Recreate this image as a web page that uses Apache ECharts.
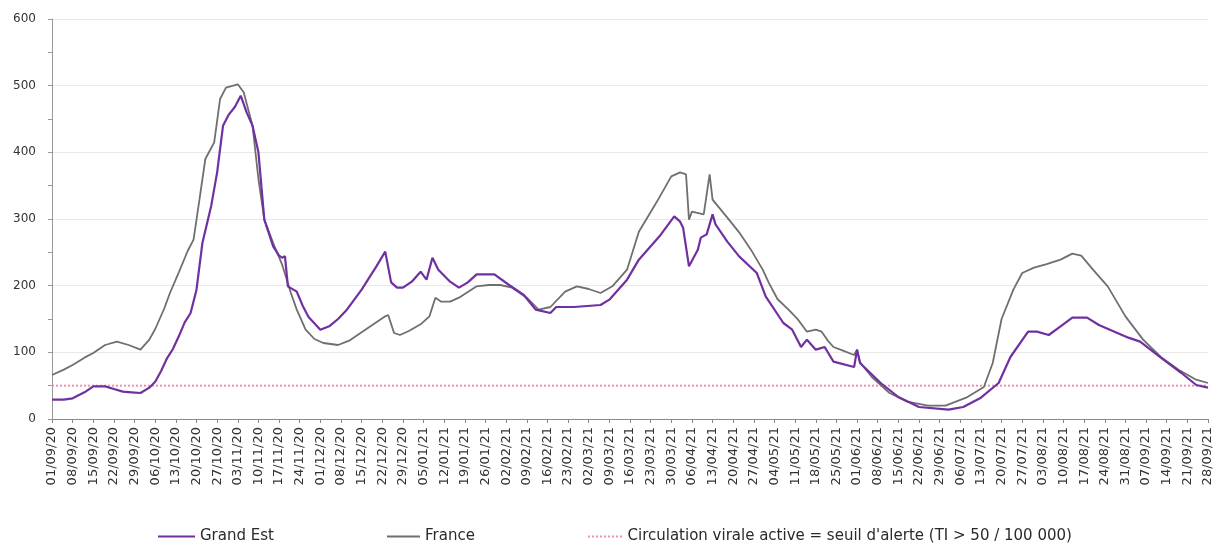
<!DOCTYPE html>
<html><head><meta charset="utf-8">
<script src="https://cdn.jsdelivr.net/npm/echarts@6/dist/echarts.min.js"></script>
<style>html,body{margin:0;padding:0;background:#fff}#c{width:1218px;height:549px}</style>
</head><body><div id="c"></div>
<script>
const dateLabels = ["01/09/20","08/09/20","15/09/20","22/09/20","29/09/20","06/10/20","13/10/20","20/10/20","27/10/20","03/11/20","10/11/20","17/11/20","24/11/20","01/12/20","08/12/20","15/12/20","22/12/20","29/12/20","05/01/21","12/01/21","19/01/21","26/01/21","02/02/21","09/02/21","16/02/21","23/02/21","02/03/21","09/03/21","16/03/21","23/03/21","30/03/21","06/04/21","13/04/21","20/04/21","27/04/21","04/05/21","11/05/21","18/05/21","25/05/21","01/06/21","08/06/21","15/06/21","22/06/21","29/06/21","06/07/21","13/07/21","20/07/21","27/07/21","03/08/21","10/08/21","17/08/21","24/08/21","31/08/21","07/09/21","14/09/21","21/09/21","28/09/21"];

// [day index since 01/09/20, rate per 100 000]
const grandEst = [[0,29],[4,29],[7,31],[11,40],[14,49],[18,49],[21,45],[24,41],[27,40],[30,39],[33,47],[35,56],[37,72],[39,91],[41,105],[43,124],[45,145],[47,159],[49,194],[51,264],[54,320],[56,370],[58,440],[60,457],[62,468],[64,485],[66,460],[68,440],[70,400],[72,299],[75,259],[77,245],[78,242],[79,244],[80,199],[83,191],[85,170],[87,153],[91,134],[94,139],[97,150],[100,164],[105,194],[110,229],[113,251],[115,205],[117,197],[119,197],[122,206],[125,221],[127,209],[129,242],[131,224],[133,215],[135,206],[138,197],[141,205],[144,217],[150,217],[155,201],[160,186],[164,164],[169,159],[171,168],[177,168],[186,171],[189,179],[195,209],[199,239],[206,274],[211,304],[213,296],[214,287],[216,229],[219,254],[220,272],[222,277],[224,307],[225,292],[229,266],[233,244],[239,219],[242,184],[248,144],[251,134],[254,108],[256,119],[259,104],[262,108],[265,86],[272,78],[273,104],[274,84],[281,54],[287,33],[294,18],[304,14],[309,18],[315,32],[321,54],[325,93],[331,131],[334,131],[338,126],[342,139],[346,152],[351,152],[355,141],[365,122],[369,116],[376,92],[383,69],[388,51],[392,47]];

const france = [[0,66],[4,74],[7,81],[11,92],[14,99],[18,111],[22,116],[26,111],[30,104],[33,119],[35,135],[38,165],[40,189],[43,220],[46,252],[48,269],[50,329],[52,390],[55,415],[57,480],[59,497],[63,502],[65,490],[68,440],[70,360],[72,299],[75,264],[78,232],[81,189],[83,164],[86,134],[89,120],[92,114],[97,111],[101,118],[105,130],[110,145],[113,154],[114,156],[116,129],[118,126],[121,132],[125,142],[128,154],[130,182],[132,176],[135,176],[138,182],[144,199],[148,201],[152,201],[156,197],[161,182],[165,164],[169,168],[174,191],[178,199],[182,195],[186,189],[190,199],[195,224],[199,281],[205,325],[210,364],[213,370],[215,367],[216,299],[217,311],[221,307],[223,367],[224,329],[229,302],[233,280],[237,254],[241,224],[243,205],[246,180],[250,163],[253,149],[256,131],[259,134],[261,131],[263,118],[265,108],[268,103],[272,96],[273,104],[274,85],[278,63],[284,39],[290,26],[297,20],[303,20],[310,32],[316,48],[319,84],[322,150],[326,194],[329,219],[333,227],[337,232],[342,239],[346,248],[349,245],[353,224],[358,199],[364,154],[370,119],[376,93],[382,74],[388,59],[392,54]];

const threshold = [[0,50],[392,50]];

const yTicks = [0,100,200,300,400,500,600];

const seuilName = "Circulation virale active = seuil d'alerte (TI > 50 / 100 000)";
const legendText = {fontSize:15,color:'#2a2a2a',fontFamily:'DejaVu Sans'};
const solidIcon = 'path://M0,0H36V2H0Z';
const dottedIcon = 'path://M0,0h2v2h-2z M4,0h2v2h-2z M8,0h2v2h-2z M12,0h2v2h-2z M16,0h2v2h-2z M20,0h2v2h-2z M24,0h2v2h-2z M28,0h2v2h-2z M32,0h2v2h-2z';

const chart = echarts.init(document.getElementById('c'), null, {renderer:'canvas'});
chart.setOption({
  animation:false,
  backgroundColor:'#fff',
  textStyle:{fontFamily:'DejaVu Sans, sans-serif'},
  grid:{left:52,right:10,top:19,bottom:130,containLabel:false},
  legend:[
    {left:158,top:529,icon:solidIcon,itemWidth:37,itemHeight:2.5,data:['Grand Est'],textStyle:legendText,padding:0},
    {left:387,top:529,icon:solidIcon,itemWidth:33,itemHeight:2,data:['France'],textStyle:legendText,padding:0},
    {left:588,top:529,icon:dottedIcon,itemWidth:35,itemHeight:2,data:[seuilName],textStyle:legendText,padding:0}
  ],
  xAxis:{
    type:'value',min:0,max:392,interval:7,
    axisLine:{show:true,lineStyle:{color:'#888',width:1}},
    axisTick:{show:true,length:4,lineStyle:{color:'#888'}},
    splitLine:{show:false},
    axisLabel:{
      rotate:90,fontSize:13,color:'#333',margin:8,showMaxLabel:true,showMinLabel:true,fontFamily:'DejaVu Sans',
      formatter:function(v){const i=Math.round(v/7);return dateLabels[i]||'';}
    }
  },
  yAxis:{
    type:'value',min:yTicks[0],max:yTicks[yTicks.length-1],interval:100,
    axisLine:{show:true,lineStyle:{color:'#999'}},
    axisTick:{show:true,length:4,lineStyle:{color:'#999'}},
    minorTick:{show:true,splitNumber:2,length:4,lineStyle:{color:'#999'}},
    splitLine:{show:true,lineStyle:{color:'#e9e9e9',width:1}},
    axisLabel:{fontSize:12,color:'#333',margin:16,fontFamily:'DejaVu Sans'}
  },
  series:[
    {name:seuilName,type:'line',data:threshold,symbol:'none',
     lineStyle:{color:'#ee8fb0',width:2,type:[2,2]},itemStyle:{color:'#ee8fb0'},z:1},
    {name:'France',type:'line',data:france,symbol:'none',lineStyle:{color:'#6f6f6f',width:1.8},itemStyle:{color:'#6f6f6f'},z:2},
    {name:'Grand Est',type:'line',data:grandEst,symbol:'none',lineStyle:{color:'#7030a0',width:2.2},itemStyle:{color:'#7030a0'},z:3}
  ]
});
</script></body></html>
